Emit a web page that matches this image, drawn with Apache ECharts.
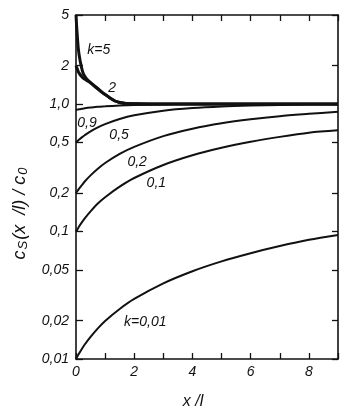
<!DOCTYPE html>
<html><head><meta charset="utf-8">
<script src="https://cdn.jsdelivr.net/npm/echarts@6/dist/echarts.min.js"></script>
<style>html,body{margin:0;padding:0;background:#fff}#c{width:358px;height:409px}</style>
</head><body><div id="c"></div>
<script>
// x/l sample positions
const xs = [0, 0.05, 0.1, 0.2, 0.3, 0.5, 0.75, 1, 1.5, 2, 3, 4, 5, 6, 7, 8, 9];
// C_S/C_0 values for each k
const k5   = [5, 3.3, 2.5, 1.9, 1.65, 1.47, 1.32, 1.19, 1.03, 1.005, 1.0, 1.0, 1.0, 1.0, 1.0, 1.0, 1.0];
const k2   = [2, 1.87, 1.76, 1.64, 1.57, 1.47, 1.32, 1.19, 1.03, 1.005, 1.0, 1.0, 1.0, 1.0, 1.0, 1.0, 1.0];
const k09  = [0.9, 0.905, 0.91, 0.918, 0.926, 0.939, 0.953, 0.96, 0.974, 0.983, 0.993, 0.997, 1.0, 1.0, 1.0, 1.0, 1.0];
const k05  = [0.5, 0.512, 0.524, 0.548, 0.57, 0.611, 0.656, 0.697, 0.764, 0.816, 0.888, 0.932, 0.959, 0.975, 0.985, 0.991, 0.994];
const k02  = [0.2, 0.208, 0.216, 0.231, 0.247, 0.276, 0.311, 0.345, 0.407, 0.462, 0.561, 0.64, 0.706, 0.759, 0.803, 0.838, 0.872];
const k01  = [0.1, 0.104, 0.109, 0.118, 0.127, 0.144, 0.166, 0.186, 0.225, 0.263, 0.333, 0.397, 0.454, 0.506, 0.553, 0.596, 0.622];
const k001 = [0.01, 0.0105, 0.011, 0.012, 0.013, 0.0149, 0.0174, 0.0199, 0.0247, 0.0296, 0.0392, 0.0488, 0.0583, 0.0676, 0.0769, 0.0861, 0.094];
// tick labels
const yTicks = [0.01, 0.02, 0.05, 0.1, 0.2, 0.5, 1, 2, 5];
const yTickLabels = ['0,01', '0,02', '0,05', '0,1', '0,2', '0,5', '1,0', '2', '5'];
const xTickLabels = ['0', '2', '4', '6', '8'];
// curve annotations [label, x, y]
const curveLabels = [
  ['k=5', 0.78, 2.66], ['2', 1.24, 1.34], ['0,9', 0.38, 0.71], ['0,5', 1.48, 0.57],
  ['0,2', 2.1, 0.35], ['0,1', 2.76, 0.24], ['k=0,01', 2.38, 0.0195]
];

const font = '"Liberation Sans", Arial, sans-serif';
const pair = (arr) => xs.map((x, i) => [x, arr[i]]);
const mk = (arr, w, s) => ({
  type: 'line', data: pair(arr), smooth: s, showSymbol: false, symbol: 'none',
  lineStyle: { color: '#111', width: w }, silent: true, z: 3
});
const series = [mk(k001, 2, 0.3), mk(k01, 2, 0.3), mk(k02, 2, 0.3), mk(k05, 2, 0.3), mk(k09, 2, 0.3), mk(k2, 3, 0.5), mk(k5, 3, 0.5)];
series.push({
  type: 'scatter', data: [], silent: true,
  markPoint: {
    symbol: 'circle', symbolSize: 0,
    data: curveLabels.map(c => ({ coord: [c[1], c[2]], value: c[0] })),
    label: { show: true, formatter: p => p.value, position: 'inside', color: '#111',
      fontFamily: font, fontStyle: 'italic', fontSize: 14 }
  }
});

const chart = echarts.init(document.getElementById('c'), null, { renderer: 'canvas' });
const axisLine = { show: true, onZero: false, lineStyle: { color: '#111', width: 1.6 } };
chart.setOption({
  animation: false,
  backgroundColor: '#fff',
  grid: { left: 76, right: 20, top: 15, bottom: 50, containLabel: false, outerBoundsMode: 'none' },
  xAxis: [
    { type: 'value', min: 0, max: 9, interval: 1, position: 'bottom',
      axisLine, splitLine: { show: false },
      axisTick: { show: true, inside: true, length: 6, lineStyle: { color: '#111', width: 1.3 } },
      axisLabel: { color: '#111', fontFamily: font, fontStyle: 'italic', fontSize: 14, margin: 6,
        formatter: v => (xTickLabels.indexOf(String(v)) >= 0 ? String(v) : '') },
      name: 'x /l', nameLocation: 'middle', nameGap: 35,
      nameTextStyle: { color: '#111', fontFamily: font, fontStyle: 'italic', fontSize: 16, padding: [0, 28, 0, 0] } },
    { type: 'value', min: 0, max: 9, interval: 1, position: 'top',
      axisLine, splitLine: { show: false }, axisLabel: { show: false },
      axisTick: { show: true, inside: true, length: 6, lineStyle: { color: '#111', width: 1.3 } } }
  ],
  yAxis: [
    { type: 'log', logBase: 10, min: 0.01, max: 5, position: 'left',
      axisLine, splitLine: { show: false }, minorTick: { show: false },
      axisTick: { show: true, inside: true, length: 7, customValues: yTicks, lineStyle: { color: '#111', width: 1.3 } },
      axisLabel: { show: true, customValues: yTicks, color: '#111', fontFamily: font, fontStyle: 'italic', fontSize: 14, margin: 7,
        formatter: v => { const i = yTicks.findIndex(t => Math.abs(t - v) / t < 1e-6); return i >= 0 ? yTickLabels[i] : ''; } },
      name: '{a|c}{s|S}{a|(x  /l) / c}{s|0}{p|}', nameLocation: 'middle', nameGap: 46, nameRotate: 90,
      nameTextStyle: { color: '#111', fontFamily: font, fontStyle: 'italic', fontSize: 18,
        rich: { a: { fontFamily: font, fontStyle: 'italic', fontSize: 18, color: '#111' },
                s: { fontFamily: font, fontStyle: 'italic', fontSize: 13, color: '#111', verticalAlign: 'bottom', padding: [7, 1, 0, 1] },
                p: { width: 52 } } } },
    { type: 'log', logBase: 10, min: 0.01, max: 5, position: 'right',
      axisLine, splitLine: { show: false }, axisLabel: { show: false },
      axisTick: { show: true, inside: true, length: 6, customValues: yTicks, lineStyle: { color: '#111', width: 1.3 } } }
  ],
  series
});
</script></body></html>
